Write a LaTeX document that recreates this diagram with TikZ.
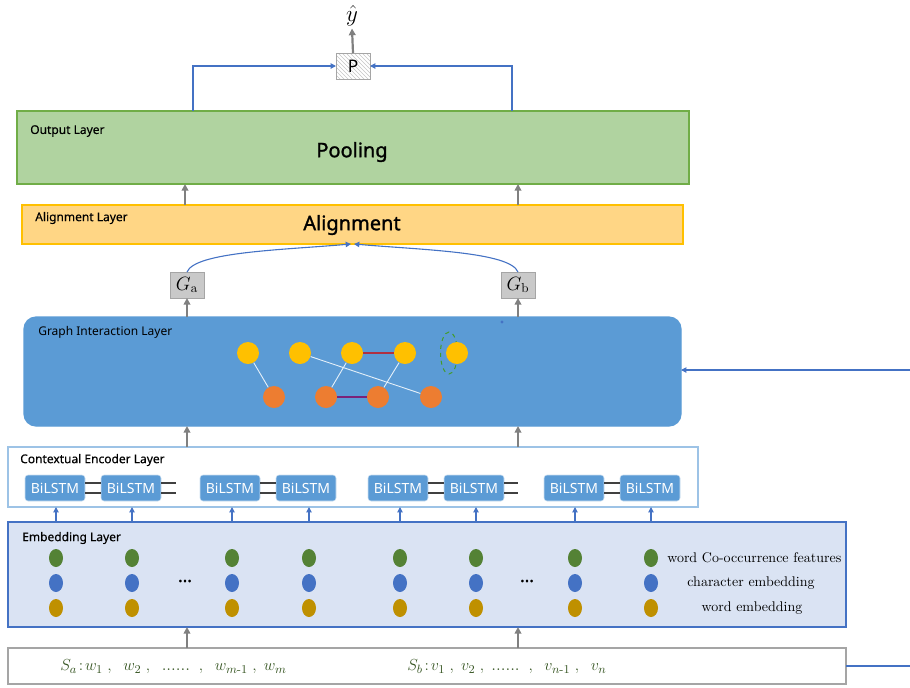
\documentclass[tikz,border=0pt]{standalone}
\usepackage{fontspec}
\usepackage{amsmath}
\setsansfont{Noto Sans}
\newfontfamily\heavy{Noto Sans}[FakeBold=1.3]
\newfontfamily\semi{Noto Sans}[FakeBold=0.4]
\usetikzlibrary{patterns,arrows.meta,shapes.geometric}
\newcommand\PX{0.75pt}
\definecolor{outfill}{HTML}{B0D3A0}
\definecolor{outdraw}{HTML}{70AD47}
\definecolor{alfill}{HTML}{FFD685}
\definecolor{aldraw}{HTML}{FFC000}
\definecolor{grfill}{HTML}{5B9BD5}
\definecolor{nyellow}{HTML}{FFC000}
\definecolor{norange}{HTML}{ED7D31}
\definecolor{emfill}{HTML}{DAE3F3}
\definecolor{emdraw}{HTML}{4472C4}
\definecolor{ctxdraw}{HTML}{9DC3E6}
\definecolor{gbox}{HTML}{C9C9C9}
\definecolor{gboxd}{HTML}{A5A5A5}
\definecolor{arrgray}{HTML}{808080}
\definecolor{arrblue}{HTML}{4472C4}
\definecolor{dgreen}{HTML}{548235}
\definecolor{dblue}{HTML}{4472C4}
\definecolor{dgold}{HTML}{BF9000}
\definecolor{tgreen}{HTML}{375623}
\definecolor{redge}{HTML}{B03040}
\begin{document}
\begin{tikzpicture}[x=0.75pt,y=-0.75pt,
  layer/.style={draw, rectangle, inner sep=0pt, outer sep=0pt, line width=1.2*\PX},
  lbl/.style={font=\semi\fontsize{9}{11}\selectfont, anchor=west, inner sep=0pt},
  big/.style={font=\heavy\fontsize{15}{18}\selectfont, inner sep=0pt},
  garrow/.style={draw=arrgray, line width=2.2*\PX, -{Triangle[length=5pt,width=5pt]}},
  barrow/.style={draw=arrblue, line width=1.1*\PX, -{Triangle[length=4pt,width=4pt]}},
  gbox/.style={draw=gboxd, fill=gbox, line width=1*\PX, minimum width=34*\PX, minimum height=26*\PX, inner sep=0pt, outer sep=0pt},
  bil/.style={draw=white!70!grfill, fill=grfill, rounded corners=3*\PX, minimum width=60*\PX, minimum height=26*\PX, inner sep=0pt, text=white, font=\sffamily\fontsize{10.5}{12}\selectfont},
  ynode/.style={circle, fill=nyellow, minimum size=22*\PX, inner sep=0pt},
  onode/.style={circle, fill=norange, minimum size=22*\PX, inner sep=0pt},
  edot/.style={ellipse, minimum width=14*\PX, minimum height=18*\PX, inner sep=0pt},
  leg/.style={font=\fontsize{10.5}{12}\selectfont, inner sep=0pt}
]
\useasboundingbox (0,0) rectangle (910,687);
% layers
\node[layer, fill=outfill, draw=outdraw, minimum width=672*\PX, minimum height=73*\PX] (out) at (353,147.5) {};
\node[lbl] (outlbl) at (30,131) {Output Layer};
\node[big] (pool) at (352,152) {Pooling};
\node[layer, fill=alfill, draw=aldraw, minimum width=661*\PX, minimum height=39*\PX] (align) at (352.5,224.5) {};
\node[lbl] (allbl) at (35,218) {Alignment Layer};
\node[big] (alt) at (352,225) {Alignment};
\node[layer, fill=grfill, draw=grfill, rounded corners=12*\PX, minimum width=657*\PX, minimum height=109*\PX] (graph) at (352.5,371.5) {};
\node[lbl, font=\sffamily\bfseries\fontsize{9}{11}\selectfont] (grlbl) at (38,332) {Graph Interaction Layer};
\node[layer, fill=white, draw=ctxdraw, minimum width=690*\PX, minimum height=60*\PX] (ctx) at (353,477) {};
\node[lbl] (ctxlbl) at (20,460) {Contextual Encoder Layer};
\node[layer, fill=emfill, draw=emdraw, minimum width=838*\PX, minimum height=105*\PX] (emb) at (427,574.5) {};
\node[lbl] (emblbl) at (22,538) {Embedding Layer};
\node[layer, fill=white, draw=gboxd, minimum width=838*\PX, minimum height=36*\PX] (inp) at (427,666) {};
% top
\node[draw=gboxd, line width=1*\PX, pattern=north west lines, pattern color=gray!45, minimum width=34*\PX, minimum height=26*\PX, inner sep=0pt, outer sep=0pt, font=\sffamily\fontsize{13}{14}\selectfont] (P) at (353,66) {P};
\node[inner sep=0pt, font=\fontsize{17}{18}\selectfont] (yhat) at (352,16) {$\hat{y}$};
\node[gbox] (Ga) at (187,285) {\fontsize{14}{15}\selectfont$G_{\mathrm{a}}$};
\node[gbox] (Gb) at (518,285) {\fontsize{14}{15}\selectfont$G_{\mathrm{b}}$};
% coordinates
\coordinate (cA) at (187,0);
\coordinate (cB) at (518,0);
\coordinate (oA) at (185,0);
\coordinate (pL) at (193,0);
\coordinate (pR) at (512,0);
\coordinate (rin) at (910,370);
\coordinate (rout) at (910,666);
% arrows top
\draw[garrow] (P.north) -- ([yshift=-2*\PX]yhat.south);
\draw[barrow] (pL |- out.north) |- (P.west);
\draw[barrow] (pR |- out.north) |- (P.east);
\draw[garrow] (oA |- align.north) -- (oA |- out.south);
\draw[garrow] (cB |- align.north) -- (cB |- out.south);
\draw[barrow] (Ga.north) .. controls +(8,-20) and +(-70,6) .. ([xshift=-1.5*\PX]align.south);
\draw[barrow] (Gb.north) .. controls +(-8,-20) and +(70,6) .. ([xshift=1.5*\PX]align.south);
\draw[garrow] (Ga.south |- graph.north) -- (Ga.south);
\draw[garrow] (Gb.south |- graph.north) -- (Gb.south);
\draw[barrow] (rin) -- (rin -| graph.east);
\draw[garrow] (cA |- ctx.north) -- (cA |- graph.south);
\draw[garrow] (cB |- ctx.north) -- (cB |- graph.south);
\draw[garrow] (cA |- inp.north) -- (cA |- emb.south);
\draw[garrow] (cB |- inp.north) -- (cB |- emb.south);
\draw[draw=arrblue, line width=1.1*\PX] (inp.east) -- (rout);
% graph content
\fill[arrblue] (502,322) circle (1.6);
\node[ellipse, draw=dgreen!80!green, dashed, line width=1*\PX, minimum width=17*\PX, minimum height=42*\PX, inner sep=0pt] (ell) at (449,353) {};
\node[ynode] (y1) at (248,353) {};
\node[ynode] (y2) at (300,353) {};
\node[ynode] (y3) at (352,353) {};
\node[ynode] (y4) at (405,353) {};
\node[ynode] (y5) at (457,353) {};
\node[onode] (o1) at (274,397) {};
\node[onode] (o2) at (326,397) {};
\node[onode] (o3) at (378,397) {};
\node[onode] (o4) at (431,397) {};
\begin{scope}[line width=0.9*\PX, draw=white!85!grfill]
\draw (y1) -- (o1);
\draw (y2) -- (o4);
\draw (y3) -- (o2);
\draw (y4) -- (o3);
\end{scope}
\draw[redge, line width=1.2*\PX] (y3) -- (y4);
\draw[redge!70!blue, line width=1.5*\PX] (o2) -- (o3);
% BiLSTM
\foreach \n/\x in {1/55,2/131,3/230,4/306,5/398,6/474,7/574,8/650}{
  \node[bil] (b\n) at (\x,488) {BiLSTM};
}
\begin{scope}[draw=black!75, line width=1.3*\PX]
\foreach \a/\b in {1/2,3/4,5/6,7/8}{
  \draw ([yshift=-5*\PX]b\a.east) -- ([yshift=-5*\PX]b\b.west);
  \draw ([yshift=5*\PX]b\a.east) -- ([yshift=5*\PX]b\b.west);
}
\coordinate (t2) at (176,0);
\coordinate (t6) at (518,0);
\draw ([yshift=-5*\PX]b2.east) -- ([yshift=-5*\PX]b2.east -| t2);
\draw ([yshift=5*\PX]b2.east) -- ([yshift=5*\PX]b2.east -| t2);
\draw ([yshift=-5*\PX]b6.east) -- ([yshift=-5*\PX]b6.east -| t6);
\draw ([yshift=5*\PX]b6.east) -- ([yshift=5*\PX]b6.east -| t6);
\end{scope}
% embedding dots
\foreach \n/\x in {1/56,2/132,3/232,4/309,5/400,6/476,7/575,8/651}{
  \node[edot, fill=dgreen] (g\n) at (\x,558) {};
  \node[edot, fill=dblue] (c\n) at (\x,583) {};
  \node[edot, fill=dgold] (w\n) at (\x,608) {};
  \draw[barrow] (g\n |- emb.north) -- (g\n |- ctx.south);
}
\node[inner sep=0pt, font=\heavy\fontsize{13}{13}\selectfont] (d1) at (185,581) {...};
\node[inner sep=0pt, font=\heavy\fontsize{13}{13}\selectfont] (d2) at (527,581) {...};
\node[leg, anchor=west] (l1) at (667,558) {word Co-occurrence features};
\node[leg] (l2) at (751,583) {character embedding};
\node[leg] (l3) at (752,608) {word embedding};
% input text
\node[inner sep=0pt, anchor=west, text=tgreen, font=\fontsize{13}{15}\selectfont] (sa) at (60,667)
  {$S_{a}\!:\!w_{1}\;,\;\;w_{2}\;,\;\;\text{......}\;\;,\;\;w_{m\text{-}1}\;,\;w_{m}$};
\node[inner sep=0pt, anchor=west, text=tgreen, font=\fontsize{13}{15}\selectfont] (sb) at (407,667)
  {$S_{b}\!:\!v_{1}\;,\;v_{2}\;,\;\text{......}\;\;,\;\;v_{n\text{-}1}\;,\;\;v_{n}$};
\end{tikzpicture}
\end{document}
